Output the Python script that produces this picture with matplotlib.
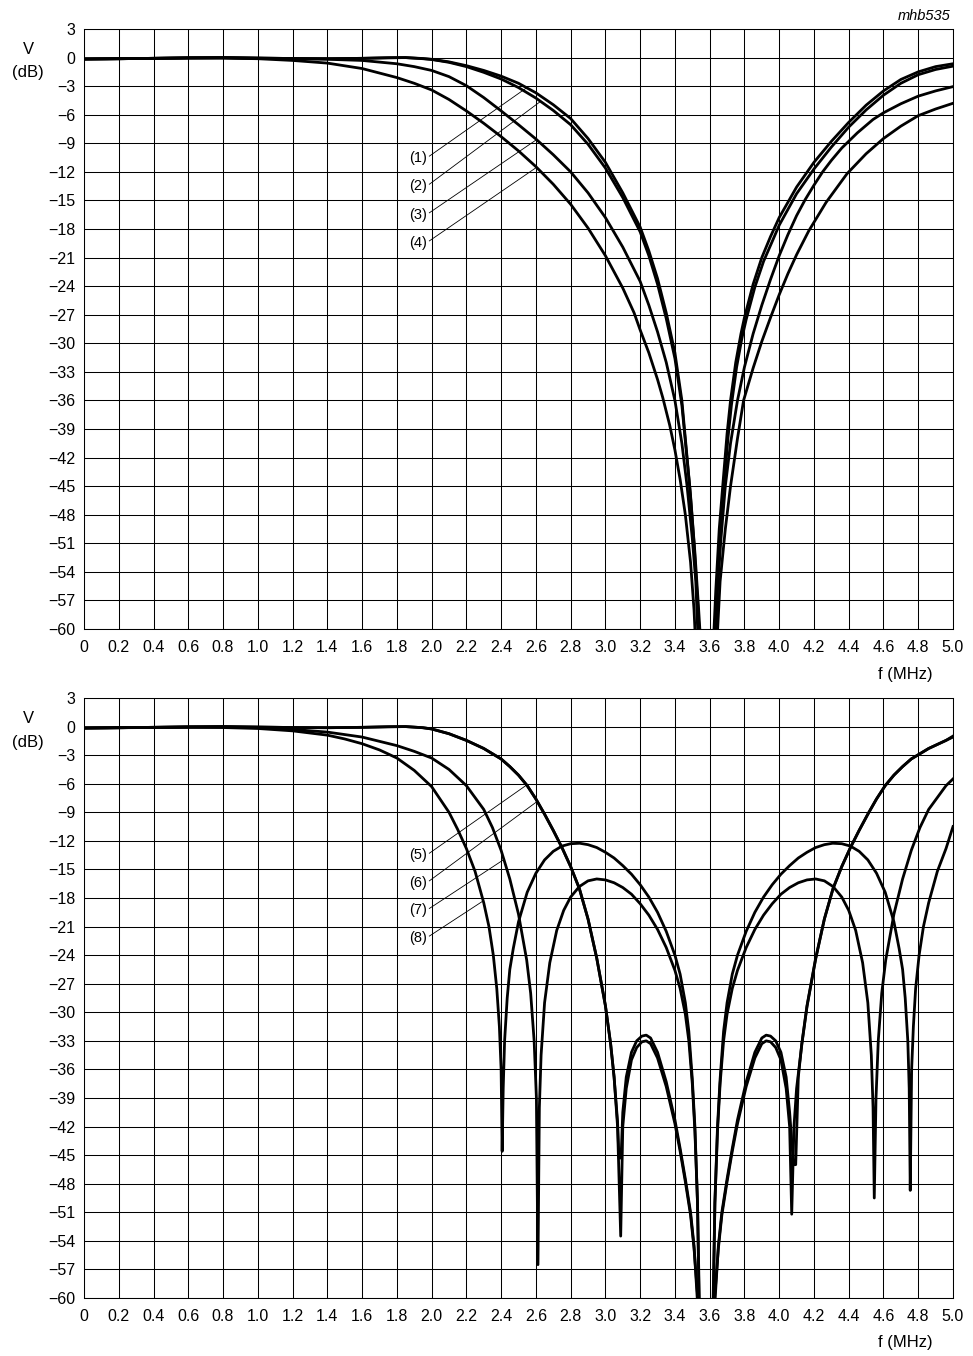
import matplotlib.pyplot as plt
import numpy as np

# Frequency responses, V (dB) against f (MHz)
plt.rcParams['font.family'] = ['Liberation Sans', 'DejaVu Sans']

f_ticks = [0.0, 0.2, 0.4, 0.6, 0.8, 1.0, 1.2, 1.4, 1.6, 1.8, 2.0, 2.2, 2.4,
           2.6, 2.8, 3.0, 3.2, 3.4, 3.6, 3.8, 4.0, 4.2, 4.4, 4.6, 4.8, 5.0]
v_ticks = [3, 0, -3, -6, -9, -12, -15, -18, -21, -24, -27, -30, -33, -36,
           -39, -42, -45, -48, -51, -54, -57, -60]

# ---- top panel: curves (1) to (4) ----
f1 = [0.0, 0.2, 0.4, 0.6, 0.8, 1.0, 1.2, 1.4, 1.6, 1.75, 1.85, 1.95, 2.0, 2.1,
      2.2, 2.3, 2.4, 2.5, 2.6, 2.7, 2.8, 2.9, 3.0, 3.1, 3.2, 3.25, 3.3, 3.35,
      3.4, 3.44, 3.485, 3.51, 3.53, 3.545,
      3.62, 3.635, 3.655, 3.675, 3.7, 3.72, 3.75, 3.78, 3.8, 3.85, 3.9, 3.95,
      4.0, 4.1, 4.2, 4.3, 4.4, 4.5, 4.6, 4.7, 4.8, 4.9, 5.0]
v1 = [-0.15, -0.12, -0.08, -0.03, 0.0, -0.05, -0.1, -0.12, -0.08, -0.02, 0.0,
      -0.1, -0.18, -0.45, -0.85, -1.35, -1.95, -2.7, -3.7, -4.95, -6.4, -8.5,
      -11.0, -14.2, -17.8, -20.3, -23.2, -26.8, -31.0, -36.0, -45.0, -51.0,
      -57.0, -62.0,
      -62.0, -56.0, -49.5, -45.0, -39.5, -36.0, -32.0, -29.0, -27.3, -23.8,
      -21.0, -18.8, -16.8, -13.6, -11.0, -8.8, -6.8, -5.0, -3.5, -2.3, -1.5,
      -0.95, -0.65]

f2 = [0.0, 0.2, 0.4, 0.6, 0.8, 1.0, 1.2, 1.4, 1.6, 1.75, 1.85, 1.95, 2.0, 2.1,
      2.2, 2.3, 2.4, 2.5, 2.6, 2.7, 2.8, 2.9, 3.0, 3.1, 3.2, 3.25, 3.3, 3.35,
      3.4, 3.44, 3.49, 3.515, 3.535, 3.55,
      3.625, 3.64, 3.66, 3.68, 3.705, 3.725, 3.755, 3.785, 3.81, 3.86, 3.91,
      3.96, 4.0, 4.1, 4.2, 4.3, 4.4, 4.5, 4.6, 4.7, 4.8, 4.9, 5.0]
v2 = [-0.15, -0.12, -0.08, -0.03, 0.0, -0.05, -0.1, -0.12, -0.08, -0.02, 0.0,
      -0.12, -0.2, -0.5, -0.95, -1.55, -2.25, -3.15, -4.25, -5.55, -7.05,
      -9.1, -11.6, -14.7, -18.3, -20.8, -23.8, -27.4, -31.6, -36.5, -46.0,
      -52.0, -57.5, -62.0,
      -62.0, -56.0, -50.0, -45.5, -40.0, -36.5, -32.5, -29.5, -27.5, -24.1,
      -21.4, -19.3, -17.6, -14.3, -11.7, -9.4, -7.3, -5.5, -3.95, -2.7, -1.8,
      -1.25, -0.9]

f3 = [0.0, 0.2, 0.4, 0.6, 0.8, 1.0, 1.2, 1.4, 1.6, 1.8, 1.9, 2.0, 2.1, 2.2,
      2.3, 2.4, 2.5, 2.6, 2.7, 2.8, 2.9, 3.0, 3.1, 3.2, 3.25, 3.3, 3.35, 3.4,
      3.44, 3.47, 3.5, 3.52, 3.535,
      3.63, 3.645, 3.665, 3.69, 3.72, 3.76, 3.8, 3.85, 3.9, 3.95, 4.0, 4.05,
      4.1, 4.15, 4.2, 4.25, 4.3, 4.36, 4.45, 4.54, 4.6, 4.7, 4.8, 4.9, 5.0]
v3 = [-0.15, -0.12, -0.08, -0.04, -0.03, -0.08, -0.12, -0.18, -0.3, -0.65,
      -0.95, -1.35, -2.0, -2.95, -4.2, -5.6, -7.05, -8.55, -10.2, -12.0,
      -14.2, -16.8, -19.9, -23.5, -26.0, -28.8, -32.0, -36.0, -40.5, -45.0,
      -50.5, -55.0, -62.0,
      -62.0, -56.0, -50.5, -45.0, -40.5, -36.0, -32.5, -29.0, -26.0, -23.3,
      -20.8, -18.6, -16.6, -14.9, -13.4, -12.0, -10.8, -9.5, -7.9, -6.5, -5.8,
      -4.85, -4.05, -3.5, -3.05]

f4 = [0.0, 0.2, 0.4, 0.6, 0.8, 1.0, 1.2, 1.4, 1.6, 1.8, 1.9, 2.0, 2.1, 2.2,
      2.3, 2.4, 2.5, 2.6, 2.7, 2.8, 2.9, 3.0, 3.1, 3.165, 3.2, 3.25, 3.3, 3.33,
      3.37, 3.4, 3.43, 3.46, 3.49, 3.51, 3.52,
      3.64, 3.66, 3.69, 3.72, 3.76, 3.795, 3.85, 3.9, 3.95, 4.0, 4.05, 4.1,
      4.17, 4.27, 4.39, 4.5, 4.6, 4.7, 4.8, 4.9, 5.0]
v4 = [-0.15, -0.12, -0.08, -0.05, -0.06, -0.12, -0.3, -0.58, -1.15, -2.1,
      -2.7, -3.4, -4.4, -5.6, -6.9, -8.3, -9.8, -11.45, -13.3, -15.4, -17.9,
      -20.8, -24.2, -26.8, -28.6, -31.0, -33.8, -35.7, -38.6, -41.2, -44.3,
      -48.0, -53.0, -58.0, -62.0,
      -62.0, -55.0, -49.5, -45.0, -40.0, -36.0, -32.6, -29.8, -27.3, -24.9,
      -22.7, -20.7, -18.2, -15.2, -12.2, -10.1, -8.5, -7.2, -6.1, -5.4, -4.8]

# ---- bottom panel: curves (5) to (8) ----
f5 = [0.0, 0.2, 0.4, 0.6, 0.8, 1.0, 1.2, 1.4, 1.6, 1.75, 1.85, 1.95, 2.0, 2.1,
      2.2, 2.3, 2.4, 2.45, 2.5, 2.55, 2.6, 2.65, 2.7, 2.75, 2.8, 2.85, 2.9,
      2.95, 3.0, 3.03, 3.05, 3.07, 3.078, 3.09, 3.1, 3.12, 3.15, 3.18, 3.21,
      3.235, 3.26, 3.3, 3.35, 3.4, 3.43, 3.46, 3.49, 3.51, 3.535,
      3.625, 3.65, 3.67, 3.7, 3.73, 3.76, 3.81, 3.86, 3.9, 3.925, 3.95, 3.98,
      4.01, 4.04, 4.06, 4.07, 4.082, 4.095, 4.11, 4.13, 4.16, 4.21, 4.26,
      4.31, 4.36, 4.41, 4.46, 4.51, 4.56, 4.61, 4.66, 4.71, 4.76, 4.86, 4.96,
      5.0]
v5 = [-0.15, -0.12, -0.08, -0.03, 0.0, -0.05, -0.1, -0.12, -0.08, -0.02, 0.0,
      -0.12, -0.25, -0.75, -1.45, -2.3, -3.4, -4.2, -5.1, -6.2, -7.6, -9.2,
      -10.9, -12.7, -14.7, -17.0, -20.2, -24.3, -29.3, -33.3, -36.8, -41.5,
      -45.3, -45.3, -40.5, -36.8, -34.2, -33.0, -32.5, -32.4, -32.7, -34.2,
      -37.3, -41.3, -44.3, -47.5, -51.0, -54.5, -62.0,
      -62.0, -54.5, -51.0, -47.5, -44.3, -41.3, -37.3, -34.2, -32.7, -32.4,
      -32.5, -33.0, -34.2, -36.8, -40.5, -43.0, -46.0, -46.0, -36.8, -33.3,
      -29.3, -24.3, -20.2, -17.0, -14.7, -12.7, -10.9, -9.2, -7.6, -6.2,
      -5.1, -4.2, -3.4, -2.3, -1.45, -1.1]

f6 = [0.0, 0.2, 0.4, 0.6, 0.8, 1.0, 1.2, 1.4, 1.6, 1.75, 1.85, 1.95, 2.0, 2.1,
      2.2, 2.3, 2.4, 2.45, 2.5, 2.55, 2.6, 2.65, 2.7, 2.75, 2.8, 2.85, 2.9,
      2.95, 3.0, 3.03, 3.05, 3.07, 3.088, 3.1, 3.12, 3.15, 3.18, 3.21, 3.235,
      3.26, 3.3, 3.35, 3.4, 3.43, 3.46, 3.49, 3.51, 3.54,
      3.62, 3.65, 3.67, 3.7, 3.73, 3.76, 3.81, 3.86, 3.9, 3.925, 3.95, 3.98,
      4.01, 4.04, 4.06, 4.072, 4.085, 4.1, 4.13, 4.16, 4.21, 4.26, 4.31, 4.36,
      4.41, 4.46, 4.51, 4.56, 4.61, 4.66, 4.71, 4.76, 4.86, 4.96, 5.0]
v6 = [-0.15, -0.12, -0.08, -0.03, 0.0, -0.05, -0.1, -0.12, -0.08, -0.02, 0.0,
      -0.12, -0.25, -0.75, -1.45, -2.3, -3.4, -4.2, -5.1, -6.2, -7.6, -9.2,
      -10.9, -12.7, -14.7, -17.0, -20.2, -24.3, -29.3, -33.3, -36.8, -42.0,
      -53.5, -42.0, -38.0, -35.0, -33.7, -33.1, -33.0, -33.3, -34.8, -37.8,
      -41.7, -44.6, -47.8, -51.3, -54.8, -62.0,
      -62.0, -54.8, -51.3, -47.8, -44.6, -41.7, -37.8, -34.8, -33.3, -33.0,
      -33.1, -33.7, -35.0, -38.0, -42.0, -51.2, -42.0, -38.0, -33.4, -29.4,
      -24.4, -20.2, -17.0, -14.7, -12.7, -10.9, -9.2, -7.6, -6.2, -5.1, -4.2,
      -3.4, -2.3, -1.45, -1.0]

f7 = [0.0, 0.2, 0.4, 0.6, 0.8, 1.0, 1.2, 1.4, 1.6, 1.8, 1.9, 2.0, 2.1, 2.2,
      2.3, 2.35, 2.4, 2.45, 2.5, 2.547, 2.57, 2.59, 2.603, 2.612, 2.62, 2.63,
      2.65, 2.68, 2.72, 2.76, 2.8, 2.85, 2.9, 2.95, 3.0, 3.05, 3.1, 3.15, 3.2,
      3.25, 3.3, 3.35, 3.4, 3.43, 3.46, 3.48, 3.5, 3.515, 3.53, 3.542,
      3.618, 3.63, 3.645, 3.66, 3.68, 3.7, 3.73, 3.76, 3.81, 3.86, 3.91, 3.96,
      4.01, 4.06, 4.11, 4.16, 4.21, 4.26, 4.31, 4.36, 4.4, 4.44, 4.48, 4.51,
      4.53, 4.54, 4.547, 4.557, 4.57, 4.59, 4.613, 4.66, 4.71, 4.76, 4.81,
      4.86, 4.96, 5.0]
v7 = [-0.15, -0.12, -0.08, -0.05, -0.06, -0.12, -0.3, -0.58, -1.1, -2.0,
      -2.6, -3.3, -4.5, -6.2, -8.7, -10.6, -13.0, -16.0, -19.7, -24.5, -28.0,
      -33.0, -39.0, -56.5, -40.0, -34.5, -29.0, -24.8, -21.4, -19.3, -17.9,
      -16.8, -16.2, -16.0, -16.1, -16.4, -16.9, -17.6, -18.6, -19.8, -21.3,
      -23.2, -25.6, -27.5, -30.2, -33.0, -37.5, -42.5, -50.0, -62.0,
      -62.0, -50.0, -42.5, -37.5, -33.0, -30.2, -27.5, -25.6, -23.2, -21.3,
      -19.8, -18.6, -17.6, -16.9, -16.4, -16.1, -16.0, -16.2, -16.8, -17.9,
      -19.3, -21.4, -24.8, -29.0, -34.5, -40.0, -49.5, -39.0, -33.0, -28.0,
      -24.5, -19.7, -16.0, -13.0, -10.6, -8.7, -6.2, -5.5]

f8 = [0.0, 0.2, 0.4, 0.6, 0.8, 1.0, 1.2, 1.4, 1.5, 1.6, 1.7, 1.8, 1.9, 2.0,
      2.1, 2.15, 2.2, 2.25, 2.3, 2.33, 2.355, 2.375, 2.39, 2.4, 2.406, 2.412,
      2.42, 2.435, 2.45, 2.47, 2.5, 2.55, 2.6, 2.65, 2.7, 2.75, 2.8, 2.852,
      2.9, 2.95, 3.0, 3.05, 3.1, 3.15, 3.2, 3.25, 3.3, 3.35, 3.4, 3.43, 3.46,
      3.48, 3.5, 3.515, 3.53, 3.54,
      3.62, 3.63, 3.645, 3.66, 3.68, 3.7, 3.73, 3.76, 3.81, 3.86, 3.91, 3.96,
      4.01, 4.06, 4.11, 4.16, 4.21, 4.26, 4.308, 4.36, 4.41, 4.46, 4.51, 4.56,
      4.61, 4.66, 4.69, 4.71, 4.725, 4.74, 4.748, 4.754, 4.762, 4.772, 4.785,
      4.805, 4.83, 4.86, 4.91, 4.96, 5.0]
v8 = [-0.15, -0.12, -0.1, -0.08, -0.1, -0.2, -0.45, -0.9, -1.3, -1.8, -2.45,
      -3.3, -4.6, -6.3, -9.0, -10.8, -12.8, -15.2, -18.5, -21.0, -24.0, -27.5,
      -31.5, -36.0, -44.6, -38.0, -33.0, -28.5, -25.5, -23.3, -20.5, -17.4,
      -15.4, -14.0, -13.1, -12.55, -12.3, -12.25, -12.4, -12.7, -13.2, -13.8,
      -14.6, -15.5, -16.6, -17.9, -19.5, -21.5, -24.0, -26.0, -29.0, -32.0,
      -37.0, -42.0, -50.0, -62.0,
      -62.0, -50.0, -42.0, -37.0, -32.0, -29.0, -26.0, -24.0, -21.5, -19.5,
      -17.9, -16.6, -15.5, -14.6, -13.8, -13.2, -12.7, -12.4, -12.25, -12.3,
      -12.55, -13.1, -14.0, -15.4, -17.4, -20.5, -23.3, -25.5, -28.5, -33.0,
      -38.0, -48.7, -36.0, -31.5, -27.5, -24.0, -21.0, -18.5, -15.2, -12.8,
      -10.5]

top_curves = [(f1, v1), (f2, v2), (f3, v3), (f4, v4)]
bot_curves = [(f5, v5), (f6, v6), (f7, v7), (f8, v8)]

# curve labels, where the label sits (f, V) and where its leader touches the curve (f)
top_names = ['(1)', '(2)', '(3)', '(4)']
top_label_v = [-10.55, -13.5, -16.5, -19.45]
top_leader_f = [2.547, 2.627, 2.604, 2.604]
bot_names = ['(5)', '(6)', '(7)', '(8)']
bot_label_v = [-13.5, -16.4, -19.3, -22.2]
bot_leader_f = [2.547, 2.608, 2.416, 2.297]
label_f = 1.975

W, H = 973, 1356
fig = plt.figure(figsize=(W / 100, H / 100), dpi=100)
ax_top = fig.add_axes([84 / W, 1 - 629 / H, 869 / W, 600 / H])
ax_bot = fig.add_axes([84 / W, 1 - 1298 / H, 869 / W, 600 / H])


def setup(ax):
    ax.set_xlim(0, 5.0)
    ax.set_ylim(-60, 3)
    ax.set_xticks(f_ticks)
    ax.set_xticklabels(['0'] + ['%.1f' % t for t in f_ticks[1:]])
    ax.set_yticks(v_ticks)
    ax.set_yticklabels([str(v).replace('-', '\u2212') for v in v_ticks])
    ax.grid(True, color='black', linewidth=0.75)
    ax.set_axisbelow(True)
    ax.tick_params(length=0, labelsize=11.5)
    ax.tick_params(axis='x', pad=8)
    ax.tick_params(axis='y', pad=6)
    for s in ax.spines.values():
        s.set_linewidth(0.75)


def draw(ax, curves, names, lab_v, lead_f):
    for f, v in curves:
        ax.plot(f, v, color='black', linewidth=2.0, solid_joinstyle='round')
    for (f, v), name, lv, lf in zip(curves, names, lab_v, lead_f):
        tv = np.interp(lf, f, v)
        ax.plot([label_f + 0.012, lf], [lv + 0.2, tv], color='black',
                linewidth=0.6)
        ax.text(label_f, lv, name, ha='right', va='center', fontsize=10.5)


setup(ax_top)
setup(ax_bot)
draw(ax_top, top_curves, top_names, top_label_v, top_leader_f)
draw(ax_bot, bot_curves, bot_names, bot_label_v, bot_leader_f)

# axis titles
for top_px in [29, 698]:
    fig.text(28 / W, 1 - (top_px + 21) / H, 'V', ha='center', va='center',
             fontsize=12)
    fig.text(28 / W, 1 - (top_px + 44) / H, '(dB)', ha='center',
             va='center', fontsize=12)
    fig.text(905 / W, 1 - (top_px + 645) / H, 'f (MHz)', ha='center',
             va='center', fontsize=12)

fig.text(950 / W, 1 - 16 / H, 'mhb535', ha='right', va='center',
         fontsize=10.5, style='italic')

fig.savefig('out.png', dpi=100, facecolor='white')
